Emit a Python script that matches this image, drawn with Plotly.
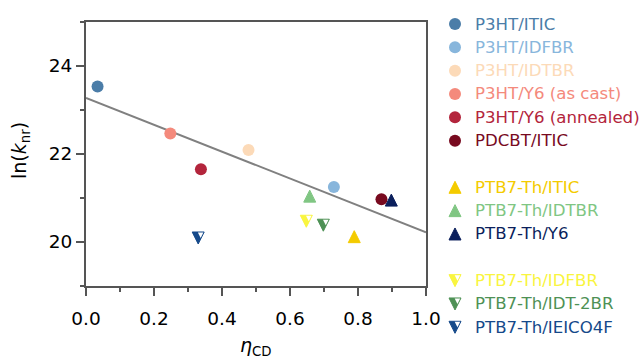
import plotly.graph_objects as go

FIG_W, FIG_H = 642, 358
FONT = "DejaVu Sans, Liberation Sans, Arial, sans-serif"
AXIS_COLOR = "#555555"

# ---- data: one point per donor/acceptor blend ----
blends = [
    "P3HT/ITIC", "P3HT/IDFBR", "P3HT/IDTBR", "P3HT/Y6 (as cast)",
    "P3HT/Y6 (annealed)", "PDCBT/ITIC",
    "PTB7-Th/ITIC", "PTB7-Th/IDTBR", "PTB7-Th/Y6",
    "PTB7-Th/IDFBR", "PTB7-Th/IDT-2BR", "PTB7-Th/IEICO4F",
]
eta_cd = [0.034, 0.729, 0.478, 0.248, 0.338, 0.869,
          0.789, 0.658, 0.898,
          0.648, 0.698, 0.330]
ln_knr = [23.53, 21.25, 22.09, 22.46, 21.65, 20.97,
          20.12, 21.04, 20.95,
          20.47, 20.38, 20.09]
blend_colors = [
    "#4B7DA8", "#88B6DC", "#FCDAB8", "#F48A7C", "#B3253C", "#780A1F",
    "#F4CB00", "#80C683", "#0B1F5C",
    "#F9F53F", "#4E9155", "#15498A",
]
marker_kind = ["circle"] * 6 + ["up"] * 3 + ["down"] * 3
legend_groups = [6, 3, 3]

# linear fit drawn across the full eta range
fit_eta = [0.0, 1.0]
fit_ln_knr = [23.27, 20.22]

x_tickvals = [0.0, 0.2, 0.4, 0.6, 0.8, 1.0]
x_ticktext = ["0.0", "0.2", "0.4", "0.6", "0.8", "1.0"]
y_tickvals = [20, 22, 24]
y_ticktext = ["20", "22", "24"]


def marker_layers(kind, color):
    """Marker styles stacked to build each symbol.

    Triangles use the arrow symbols (tip on the point) pushed back by
    their radius with ``standoff`` so the triangle is centred on the point.
    """
    size = 12
    if kind == "circle":
        return [dict(symbol="circle", size=size, color=color, line=dict(width=0))]
    if kind == "up":
        return [dict(symbol="arrow-down", angle=180, standoff=size / 2,
                     size=size, color=color, line=dict(width=1, color=color))]
    # half-filled down triangle: solid triangle with a white wedge on the right
    return [
        dict(symbol="arrow-down", angle=0, standoff=size / 2, size=size,
             color=color, line=dict(width=1, color=color)),
        dict(symbol="arrow-left", angle=-90, standoff=2.44,
             size=5.5, color="white", line=dict(width=0)),
    ]


fig = go.Figure()

fig.add_trace(go.Scatter(
    x=fit_eta, y=fit_ln_knr, mode="lines",
    line=dict(color="#808080", width=2), hoverinfo="skip",
))

for i, name in enumerate(blends):
    for layer in marker_layers(marker_kind[i], blend_colors[i]):
        fig.add_trace(go.Scatter(
            x=[eta_cd[i]], y=[ln_knr[i]], mode="markers", marker=layer,
            name=name, hoverinfo="name",
        ))

# hand-built legend on a pixel-scaled overlay axis
LEG_SYMBOL_X = 455
LEG_TEXT_X = 473
LEG_ROW0 = 24
LEG_ROW_STEP = 23.33

rows = []
row = 0
for g in legend_groups:
    for _ in range(g):
        rows.append(row)
        row += 1
    row += 1

annotations = []
for i, name in enumerate(blends):
    ry = LEG_ROW0 + LEG_ROW_STEP * rows[i]
    for layer in marker_layers(marker_kind[i], blend_colors[i]):
        fig.add_trace(go.Scatter(
            x=[LEG_SYMBOL_X], y=[ry], xaxis="x2", yaxis="y2",
            mode="markers", marker=layer, hoverinfo="skip",
        ))
    annotations.append(dict(
        x=LEG_TEXT_X, y=ry, xref="x2", yref="y2", xanchor="left",
        yanchor="middle", showarrow=False, text=name,
        font=dict(family=FONT, size=16.6, color=blend_colors[i]),
    ))

annotations.append(dict(
    x=20, y=151, xref="x2", yref="y2", textangle=-90, showarrow=False,
    text="ln(<i>k</i><sub>nr</sub>)",
    font=dict(family=FONT, size=19, color="black"),
))
annotations.append(dict(
    x=256, y=346, xref="x2", yref="y2", showarrow=False,
    text="<i>η</i><sub>CD</sub>",
    font=dict(family=FONT, size=19, color="black"),
))

axis_common = dict(
    showline=True, linecolor=AXIS_COLOR, linewidth=2, mirror=True,
    ticks="outside", ticklen=8, tickwidth=2, tickcolor=AXIS_COLOR,
    showgrid=False, zeroline=False, automargin=False,
    tickfont=dict(family=FONT, size=18.5, color="black"),
)

fig.update_layout(
    width=FIG_W, height=FIG_H,
    margin=dict(l=0, r=0, t=0, b=0, pad=0, autoexpand=False),
    paper_bgcolor="white", plot_bgcolor="rgba(0,0,0,0)",
    showlegend=False,
    xaxis=dict(
        domain=[86 / FIG_W, 426 / FIG_W], range=[0, 1],
        tickmode="array", tickvals=x_tickvals, ticktext=x_ticktext,
        ticklabelstandoff=7,
        minor=dict(dtick=0.1, tick0=0, ticks="outside", ticklen=4,
                   tickwidth=2, tickcolor=AXIS_COLOR),
        **axis_common,
    ),
    yaxis=dict(
        domain=[(FIG_H - 286) / FIG_H, (FIG_H - 21.7) / FIG_H], range=[19, 25],
        tickmode="array", tickvals=y_tickvals, ticktext=y_ticktext,
        minor=dict(dtick=1, tick0=19, ticks="outside", ticklen=4,
                   tickwidth=2, tickcolor=AXIS_COLOR),
        **axis_common,
    ),
    xaxis2=dict(domain=[0, 1], range=[0, FIG_W], anchor="y2", visible=False,
                automargin=False),
    yaxis2=dict(domain=[0, 1], range=[FIG_H, 0], anchor="x2", visible=False,
                automargin=False),
    annotations=annotations,
)

fig.write_html("out.html")
